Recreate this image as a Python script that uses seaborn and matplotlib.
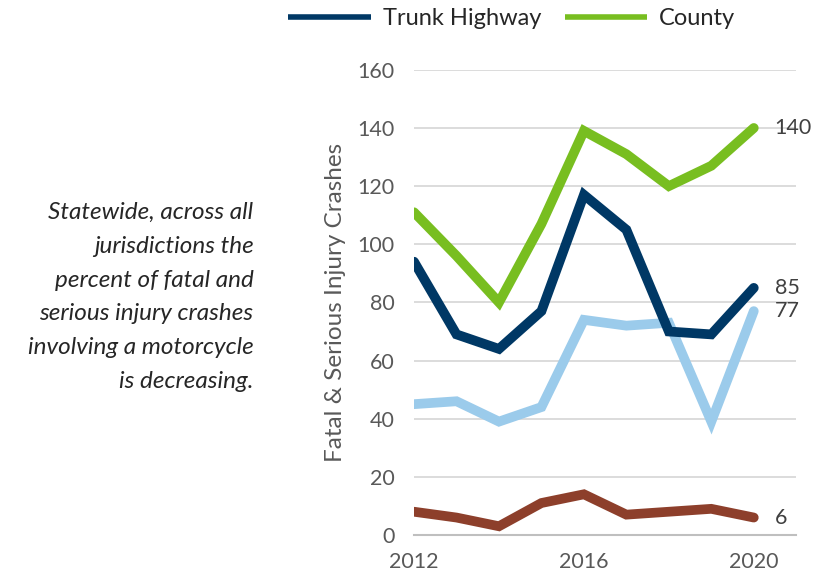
import matplotlib
matplotlib.use("Agg")
import matplotlib.pyplot as plt
from matplotlib.ticker import MultipleLocator, FixedLocator
from matplotlib.lines import Line2D
import pandas as pd
import seaborn as sns

years = [2012, 2013, 2014, 2015, 2016, 2017, 2018, 2019, 2020]
trunk_highway = [94, 69, 64, 77, 117, 105, 70, 69, 85]
county = [111, 96, 80, 107, 139, 131, 120, 127, 140]
city = [45, 46, 39, 44, 74, 72, 73, 39, 77]
other = [8, 6, 3, 11, 14, 7, 8, 9, 6]

series_names = ["Trunk Highway", "County", "City", "Other"]
series_values = [trunk_highway, county, city, other]
colors = ["#003865", "#78BE20", "#9BCBEB", "#8D3F2B"]
end_labels = ["85", "140", "77", "6"]

sns.set_style("white")
plt.rcParams["font.family"] = ["Lato", "DejaVu Sans"]

fig = plt.figure(figsize=(8.15, 5.8), dpi=100)
ax = fig.add_axes([0.508, 0.0776, 0.469, 0.802])

# draw back to front like the original
order = [2, 3, 0, 1]
for i in order:
    df = pd.DataFrame({"year": years, "value": series_values[i]})
    sns.lineplot(data=df, x="year", y="value", ax=ax, color=colors[i],
                 linewidth=7, solid_capstyle="round", solid_joinstyle="miter",
                 legend=False)

for i in range(4):
    ax.annotate(end_labels[i], (years[-1], series_values[i][-1]),
                xytext=(15, 0), textcoords="offset points",
                ha="left", va="center", fontsize=15.5, color="#404040")

ax.set_xlim(2012, 2021)
ax.set_ylim(0, 160)
ax.yaxis.set_major_locator(MultipleLocator(20))
ax.xaxis.set_major_locator(FixedLocator([2012, 2016, 2020]))
ax.xaxis.set_minor_locator(FixedLocator(list(range(2012, 2022))))
ax.xaxis.set_major_formatter(matplotlib.ticker.FuncFormatter(lambda v, p: f"{int(v)}"))

ax.grid(axis="y", color="#d9d9d9", linewidth=1.3)
ax.set_axisbelow(True)
for s in ["top", "right", "left"]:
    ax.spines[s].set_visible(False)
ax.spines["bottom"].set_color("#bfbfbf")
ax.spines["bottom"].set_linewidth(1.5)

ax.tick_params(axis="y", length=0, pad=14, labelsize=15.5, labelcolor="#595959")
ax.tick_params(axis="x", which="both", direction="inout", length=14, width=1.5,
               color="#bfbfbf", labelsize=15.5, labelcolor="#595959", pad=5)

ax.set_xlabel("")
ax.set_ylabel("Fatal & Serious Injury Crashes", fontsize=17.5, color="#595959", labelpad=8)

handles = [Line2D([], [], color=colors[0], linewidth=4, solid_capstyle="butt"),
           Line2D([], [], color=colors[1], linewidth=4, solid_capstyle="butt")]
fig.legend(handles, ["Trunk Highway", "County"],
           loc="upper center", bbox_to_anchor=(0.628, 1.022), ncol=2, frameon=False,
           fontsize=17, handlelength=3.5, columnspacing=1.0, handletextpad=0.5)

fig.text(0.311, 0.488,
         "Statewide, across all\njurisdictions the\npercent of fatal and\nserious injury crashes\ninvolving a motorcycle\nis decreasing.",
         ha="right", va="center", fontsize=17.5, style="italic", color="#262626",
         linespacing=1.75)

fig.savefig("out.png", dpi=100)
